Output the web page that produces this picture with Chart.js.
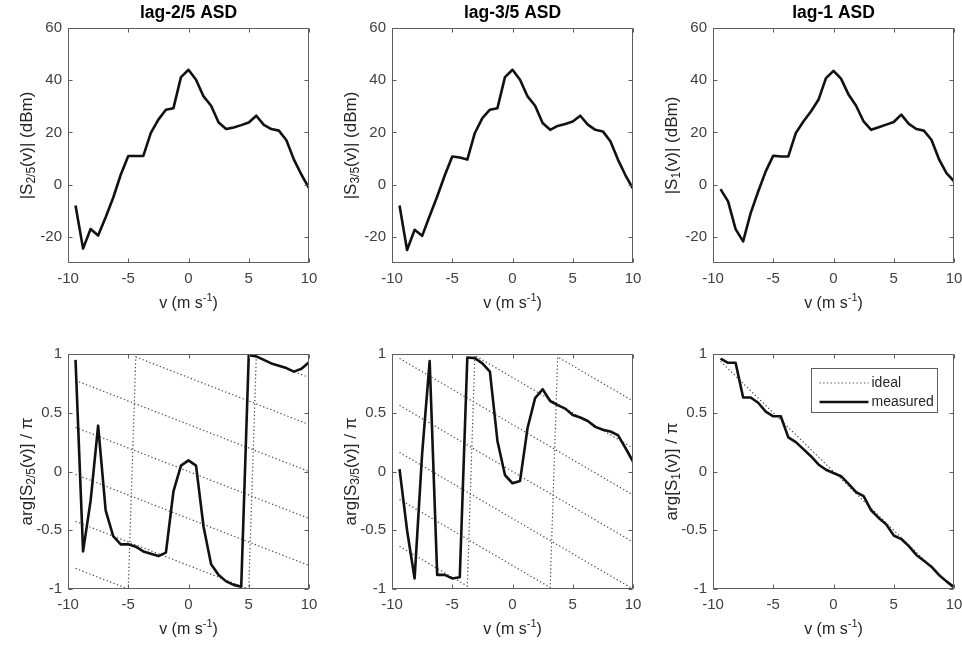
<!DOCTYPE html>
<html>
<head>
<meta charset="utf-8">
<script src="https://cdn.jsdelivr.net/npm/chart.js@4.4.1/dist/chart.umd.min.js"></script>
<style>
  html, body { margin: 0; padding: 0; background: #fff; }
  #fig { position: relative; width: 962px; height: 649px; overflow: hidden; }
  #fig canvas { position: absolute; }
</style>
</head>
<body>
<div id="fig"></div>
<script>
// velocity bins (m/s)
const v = [-9.375, -8.75, -8.125, -7.5, -6.875, -6.25, -5.625, -5, -4.375, -3.75, -3.125, -2.5,
  -1.875, -1.25, -0.625, 0, 0.625, 1.25, 1.875, 2.5, 3.125, 3.75, 4.375, 5, 5.625, 6.25,
  6.875, 7.5, 8.125, 8.75, 9.375, 10];

// |S(v)| in dBm
const mag25 = [-8, -24.5, -17, -19.5, -12.5, -5, 3.8, 11, 11, 11, 19.8, 24.9, 28.7, 29.3, 41.2, 44,
  40.2, 33.8, 30.2, 23.8, 21.3, 21.9, 22.8, 23.8, 26.4, 22.9, 21.3, 20.7, 17, 9.6, 3.8, -1.3];
const mag35 = [-8, -25, -17.3, -19.6, -12, -4.5, 3.5, 10.8, 10.4, 9.6, 19.8, 25.5, 28.7, 29.3, 41.2, 44,
  40.2, 33.8, 30.2, 23.6, 21, 22.5, 23.2, 24.2, 26.4, 23, 21, 20.4, 16.6, 9.6, 3.6, -1.5];
const mag1 = [-1.7, -6.4, -17, -21.7, -10.9, -2.6, 5.1, 11.1, 10.8, 10.8, 19.8, 24.2, 28, 32.5, 40.8, 43.6,
  40.6, 34.5, 30.2, 24.2, 21, 22, 23, 24, 26.8, 23.3, 21.3, 20.7, 17.2, 9.8, 4.4, 1.3];

// arg[S(v)] / pi, measured
const ph25 = [0.95, -0.68, -0.25, 0.39, -0.33, -0.55, -0.62, -0.62, -0.64, -0.68, -0.70, -0.72, -0.69,
  -0.17, 0.05, 0.095, 0.05, -0.47, -0.79, -0.88, -0.935, -0.965, -0.98, 0.99, 0.98, 0.95, 0.92,
  0.90, 0.88, 0.85, 0.875, 0.93];
const ph35 = [0.02, -0.5, -0.91, 0.15, 0.94, -0.88, -0.88, -0.91, -0.9, 0.97, 0.965, 0.92, 0.85,
  0.26, -0.03, -0.1, -0.08, 0.37, 0.625, 0.70, 0.60, 0.565, 0.535, 0.48, 0.46, 0.43, 0.38,
  0.355, 0.34, 0.31, 0.20, 0.085];
const ph1 = [0.96, 0.925, 0.925, 0.63, 0.63, 0.585, 0.51, 0.47, 0.47, 0.29, 0.25, 0.19, 0.13, 0.06,
  0.015, -0.013, -0.04, -0.105, -0.175, -0.21, -0.33, -0.395, -0.45, -0.545, -0.575, -0.635,
  -0.71, -0.76, -0.81, -0.88, -0.935, -0.985];

// ideal phase branches, [v, arg/pi] vertices
const ideal25 = [
  [[-9.375, 0.775], [10, 0.0]],
  [[-9.375, 0.375], [10, -0.4]],
  [[-9.375, -0.025], [10, -0.8]],
  [[-9.375, -0.425], [5, -1.0], [5.625, 0.975], [10, 0.8]],
  [[-9.375, -0.825], [-5, -1.0], [-4.375, 0.975], [10, 0.4]]
];
const ideal35 = [
  [[-9.375, 0.9625], [10, -0.2]],
  [[-9.375, 0.5625], [10, -0.6]],
  [[-9.375, 0.1625], [10, -1.0]],
  [[-9.375, -0.2375], [3.125, -0.9875], [3.75, 0.975], [10, 0.6]],
  [[-9.375, -0.6375], [-3.75, -0.975], [-3.125, 0.9875], [10, 0.2]]
];
const ideal1 = [
  [[-9.375, 0.9375], [10, -1.0]]
];

const xTicks = [-10, -5, 0, 5, 10];
const magTicks = [-20, 0, 20, 40, 60];
const phTicks = [-1, -0.5, 0, 0.5, 1];

const FONT = '"Liberation Sans", Arial, Helvetica, sans-serif';
const TXT = '#262626';
const TICK = '#404040';

// canvas cells and plot boxes (page px)
const cols = [
  { cl: 0, cw: 320, pl: 68, pr: 309 },
  { cl: 320, cw: 321, pl: 392, pr: 633 },
  { cl: 641, cw: 321, pl: 713, pr: 954 }
];
const rows = [
  { ct: 0, ch: 325, pt: 28, pb: 263 },
  { ct: 325, ch: 324, pt: 354, pb: 589 }
];

function richText(ctx, parts, x, y, size, rotate, weight) {
  ctx.save();
  ctx.translate(x, y);
  if (rotate) ctx.rotate(-Math.PI / 2);
  ctx.textBaseline = 'middle';
  ctx.textAlign = 'left';
  const sized = parts.map(p => {
    const s = (p.sub || p.sup) ? Math.round(size * 0.68) : size;
    ctx.font = (weight || '') + ' ' + s + 'px ' + FONT;
    return { t: p.t, s, dy: p.sub ? size * 0.3 : p.sup ? -size * 0.38 : 0, w: ctx.measureText(p.t).width };
  });
  const total = sized.reduce((a, p) => a + p.w, 0);
  let cx = -total / 2;
  sized.forEach(p => {
    ctx.font = (weight || '') + ' ' + p.s + 'px ' + FONT;
    ctx.fillText(p.t, cx, p.dy);
    cx += p.w;
  });
  ctx.restore();
}

function framePlugin(cfg) {
  return {
    id: 'frame',
    afterDraw(chart) {
      const ctx = chart.ctx, a = chart.chartArea;
      const xs = chart.scales.x, ys = chart.scales.y;
      const L = Math.round(a.left) + 0.5, R = Math.round(a.right) - 0.5;
      const T = Math.round(a.top) + 0.5, B = Math.round(a.bottom) - 0.5;
      ctx.save();
      ctx.strokeStyle = '#5e5e5e';
      ctx.lineWidth = 1;
      ctx.strokeRect(L, T, R - L, B - T);
      const tl = 4;
      ctx.beginPath();
      xs.ticks.forEach(t => {
        const px = Math.round(xs.getPixelForValue(t.value)) + 0.5;
        ctx.moveTo(px, B); ctx.lineTo(px, B - tl);
        ctx.moveTo(px, T); ctx.lineTo(px, T + tl);
      });
      ys.ticks.forEach(t => {
        const py = Math.round(ys.getPixelForValue(t.value)) + 0.5;
        ctx.moveTo(L, py); ctx.lineTo(L + tl, py);
        ctx.moveTo(R, py); ctx.lineTo(R - tl, py);
      });
      ctx.stroke();
      ctx.fillStyle = TXT;
      const cxm = (a.left + a.right) / 2, cym = (a.top + a.bottom) / 2;
      if (cfg.title) {
        ctx.fillStyle = '#000';
        richText(ctx, [{ t: cfg.title }], cxm, a.top - 15, 17.5, false, 'bold');
        ctx.fillStyle = TXT;
      }
      richText(ctx, [{ t: 'v (m s' }, { t: '-1', sup: true }, { t: ')' }], cxm, a.bottom + 41, 16, false);
      richText(ctx, cfg.ylab, a.left - 41, cym, 17, true);
      if (cfg.legend) {
        const bx = Math.round(a.right - 143) + 0.5, by = Math.round(a.top + 14) + 0.5;
        ctx.fillStyle = '#fff';
        ctx.fillRect(bx, by, 126, 44);
        ctx.strokeStyle = '#5e5e5e';
        ctx.lineWidth = 1;
        ctx.strokeRect(bx, by, 126, 44);
        const items = chart.data.datasets.filter(d => d.legend);
        items.sort((p, q) => p.legend - q.legend);
        items.forEach((d, i) => {
          const yy = by + 14.5 + i * 19;
          ctx.save();
          ctx.strokeStyle = d.borderColor;
          ctx.lineWidth = d.borderWidth;
          ctx.setLineDash(d.borderDash || []);
          ctx.beginPath();
          ctx.moveTo(bx + 8, yy); ctx.lineTo(bx + 57, yy);
          ctx.stroke();
          ctx.restore();
          ctx.fillStyle = TXT;
          ctx.font = '14px ' + FONT;
          ctx.textBaseline = 'middle';
          ctx.textAlign = 'left';
          ctx.fillText(d.label, bx + 60, yy);
        });
      }
      ctx.restore();
    }
  };
}

function measured(vals) {
  return {
    label: 'measured', legend: 2, order: 0,
    data: v.map((x, i) => ({ x, y: vals[i] })),
    borderColor: '#111', borderWidth: 2.6, borderJoinStyle: 'round',
    pointRadius: 0, tension: 0
  };
}
function idealSets(branches) {
  return branches.map((br, k) => ({
    label: 'ideal', legend: k === 0 ? 1 : 0, order: 1,
    data: br.map(p => ({ x: p[0], y: p[1] })),
    borderColor: '#4a4a4a', borderWidth: 1.2, borderDash: [1.3, 2.4],
    pointRadius: 0, tension: 0
  }));
}

function panel(r, c, datasets, ymin, ymax, yTicks, cfg) {
  const col = cols[c], row = rows[r];
  const cv = document.createElement('canvas');
  cv.width = col.cw; cv.height = row.ch;
  cv.style.left = col.cl + 'px'; cv.style.top = row.ct + 'px';
  cv.style.width = col.cw + 'px'; cv.style.height = row.ch + 'px';
  document.getElementById('fig').appendChild(cv);
  const tickFont = { family: FONT, size: 15 };
  new Chart(cv.getContext('2d'), {
    type: 'line',
    data: { datasets },
    options: {
      responsive: false,
      animation: false,
      devicePixelRatio: 1,
      layout: { padding: { top: row.pt - row.ct, right: col.cl + col.cw - col.pr, left: 0, bottom: 0 } },
      plugins: { legend: { display: false }, tooltip: { enabled: false }, title: { display: false } },
      scales: {
        x: {
          type: 'linear', min: -10, max: 10,
          afterBuildTicks: s => { s.ticks = xTicks.map(value => ({ value })); },
          afterFit: s => { s.height = row.ct + row.ch - row.pb; s.paddingLeft = 0; s.paddingRight = 0; },
          grid: { display: false, drawTicks: false },
          border: { display: false },
          ticks: { color: TICK, font: tickFont, padding: 7, maxRotation: 0, callback: val => String(val) }
        },
        y: {
          type: 'linear', min: ymin, max: ymax,
          afterBuildTicks: s => { s.ticks = yTicks.map(value => ({ value })); },
          afterFit: s => { s.width = col.pl - col.cl; s.paddingTop = 0; s.paddingBottom = 0; },
          grid: { display: false, drawTicks: false },
          border: { display: false },
          ticks: { color: TICK, font: tickFont, padding: 6, callback: val => String(val) }
        }
      }
    },
    plugins: [framePlugin(cfg)]
  });
}

const magLab = sub => [{ t: '|S' }, { t: sub, sub: true }, { t: '(v)| (dBm)' }];
const phLab = sub => [{ t: 'arg[S' }, { t: sub, sub: true }, { t: '(v)] / \u03c0' }];

panel(0, 0, [measured(mag25)], -30, 60, magTicks, { title: 'lag-2/5 ASD', ylab: magLab('2/5') });
panel(0, 1, [measured(mag35)], -30, 60, magTicks, { title: 'lag-3/5 ASD', ylab: magLab('3/5') });
panel(0, 2, [measured(mag1)], -30, 60, magTicks, { title: 'lag-1 ASD', ylab: magLab('1') });
panel(1, 0, [measured(ph25)].concat(idealSets(ideal25)), -1, 1, phTicks, { ylab: phLab('2/5') });
panel(1, 1, [measured(ph35)].concat(idealSets(ideal35)), -1, 1, phTicks, { ylab: phLab('3/5') });
panel(1, 2, [measured(ph1)].concat(idealSets(ideal1)), -1, 1, phTicks, { ylab: phLab('1'), legend: true });
</script>
</body>
</html>
